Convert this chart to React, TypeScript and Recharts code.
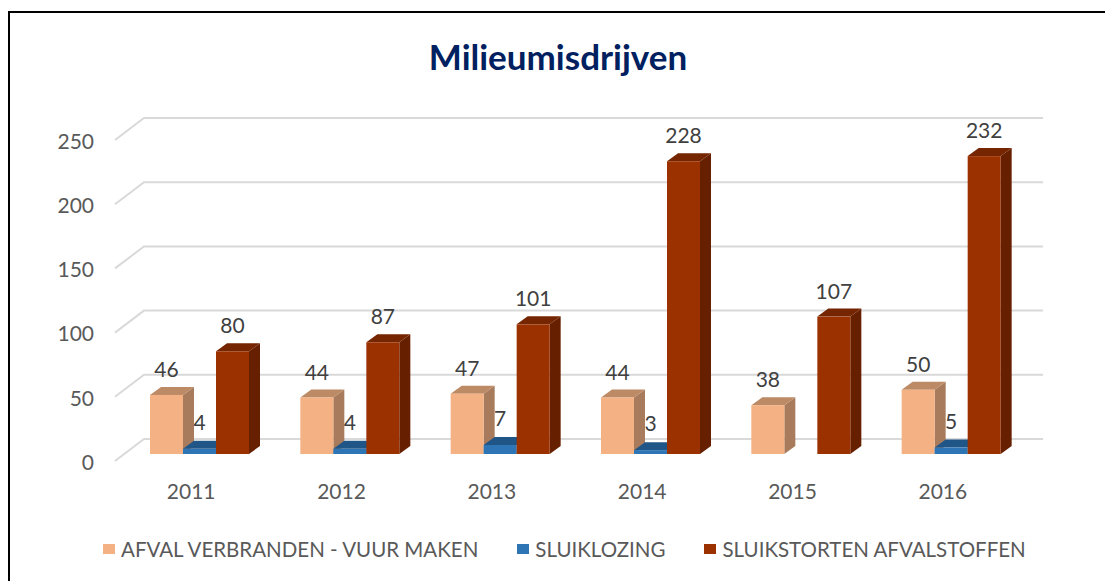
import React from 'react';
import { BarChart, Bar, XAxis, YAxis, CartesianGrid, Legend, LabelList } from 'recharts';

const years = ['2011', '2012', '2013', '2014', '2015', '2016'];
const burning = [46, 44, 47, 44, 38, 50];
const dumpingDischarge: (number | null)[] = [4, 4, 7, 3, null, 5];
const dumpingWaste = [80, 87, 101, 228, 107, 232];
const yTicks = [0, 50, 100, 150, 200, 250];
const names = ['AFVAL VERBRANDEN - VUUR MAKEN', 'SLUIKLOZING', 'SLUIKSTORTEN AFVALSTOFFEN'];

const rows = years.map((year, i) => ({
  year,
  burning: burning[i],
  discharge: dumpingDischarge[i],
  waste: dumpingWaste[i],
}));

const FONT = 'Lato, "Open Sans", sans-serif';
const TEXT = '#595959';
const LABEL = '#404040';
const DX = 11;
const DY = 8;
const NUM_SIZE = 21;

const make3D = (front: string, side: string, top: string, drawNextLabel = false) => (p: any) => {
  const { x, y, width, height, payload, value } = p;
  if (height == null || width == null) return <g />;
  const v = Array.isArray(value) ? value[1] - value[0] : value;
  const perUnit = v ? height / v : 0;
  const next = drawNextLabel ? payload?.discharge : null;
  return (
    <g>
      {next != null && (
        <text
          x={x + width * 1.5}
          y={y + height - next * perUnit - 26}
          dy="0.35em"
          textAnchor="middle"
          fontFamily={FONT}
          fontSize={NUM_SIZE}
          fill={LABEL}
        >
          {next}
        </text>
      )}
      <polygon points={`${x + width},${y} ${x + width + DX},${y - DY} ${x + width + DX},${y + height - DY} ${x + width},${y + height}`} fill={side} />
      <polygon points={`${x},${y} ${x + DX},${y - DY} ${x + width + DX},${y - DY} ${x + width},${y}`} fill={top} />
      <rect x={x} y={y} width={width} height={height} fill={front} />
    </g>
  );
};

const GridLine = (p: any) => {
  const { x1, x2, y1 } = p;
  return (
    <polyline
      key={p.key ?? y1}
      points={`${x1 - 10},${y1 + 7} ${x1 + 19},${y1 - 15} ${x2 + 16},${y1 - 15}`}
      fill="none"
      stroke="#D9D9D9"
      strokeWidth={2}
    />
  );
};

const XTick = (p: any) => (
  <text x={p.x - 9} y={p.y + 30} dy="0.35em" textAnchor="middle" fontFamily={FONT} fontSize={NUM_SIZE} fill={TEXT}>
    {p.payload.value}
  </text>
);

const YTick = (p: any) => (
  <text x={94} y={p.y + 8.5} dy="0.35em" textAnchor="end" fontFamily={FONT} fontSize={NUM_SIZE} fill={TEXT}>
    {p.payload.value}
  </text>
);

const LegendContent = (p: any) => (
  <div style={{ display: 'flex', justifyContent: 'flex-start', paddingLeft: 103, fontFamily: FONT, fontSize: 20.5, color: TEXT, whiteSpace: 'nowrap' }}>
    {(p.payload ?? []).map((e: any) => (
      <div key={e.value} style={{ display: 'flex', alignItems: 'center', marginRight: 39 }}>
        <span style={{ width: 12, height: 10, background: e.color, marginRight: 6, display: 'inline-block' }} />
        <span>{e.value}</span>
      </div>
    ))}
  </div>
);

const labelProps = {
  position: 'top' as const,
  offset: 18,
  fontFamily: FONT,
  fontSize: NUM_SIZE,
  fill: LABEL,
};

export default function App() {
  return (
    <div style={{ position: 'absolute', left: 0, top: 0, width: 1105, height: 581, overflow: 'hidden', background: '#fff' }}>
      <div style={{ position: 'absolute', left: 8, top: 11, width: 1200, height: 700, border: '2px solid #000', boxSizing: 'border-box' }} />
      <div style={{ position: 'absolute', left: 0, top: 35, width: 1116, textAlign: 'center', fontFamily: FONT, fontWeight: 700, fontSize: 35, color: '#002060', lineHeight: '42px' }}>
        Milieumisdrijven
      </div>
      <div style={{ position: 'absolute', left: 0, top: 0 }}>
        <BarChart
          width={1105}
          height={581}
          data={rows}
          margin={{ top: 133, right: 78, bottom: 50, left: 0 }}
          barCategoryGap={25}
          barGap={0}
        >
          <CartesianGrid vertical={false} horizontal={GridLine as any} />
          <XAxis dataKey="year" axisLine={false} tickLine={false} height={40} tick={XTick as any} interval={0} />
          <YAxis width={125} domain={[0, 250]} ticks={yTicks} axisLine={false} tickLine={false} tick={YTick as any} />
          <Legend height={37} content={LegendContent as any} wrapperStyle={{ left: 0, top: 537, width: 1105 }} />
          <Bar dataKey="burning" name={names[0]} fill="#F4B183" isAnimationActive={false} shape={make3D('#F4B183', '#A87B5C', '#BD8A66', true) as any}>
            <LabelList dataKey="burning" {...labelProps} />
          </Bar>
          <Bar dataKey="discharge" name={names[1]} fill="#2E75B6" isAnimationActive={false} shape={make3D('#2E75B6', '#1F5587', '#1F5587') as any} />
          <Bar dataKey="waste" name={names[2]} fill="#9C3100" isAnimationActive={false} shape={make3D('#9C3100', '#662000', '#752500') as any}>
            <LabelList dataKey="waste" {...labelProps} />
          </Bar>
        </BarChart>
      </div>
    </div>
  );
}
